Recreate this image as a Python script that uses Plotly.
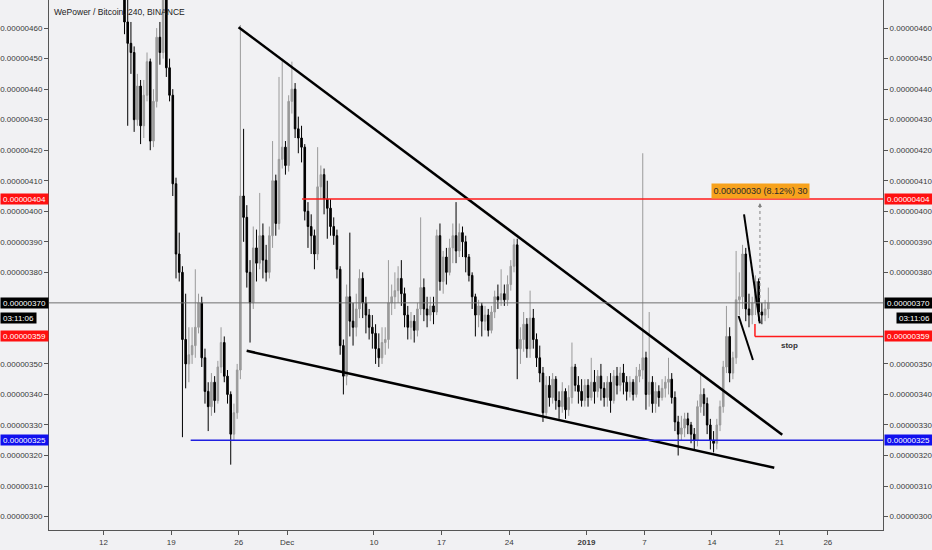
import pandas as pd
import plotly.graph_objects as go

# WPR/BTC 8h candles, prices in satoshi (1e-8 BTC)
first_open = 478
close = [
    462, 455, 452,  430, 441, 428,  438, 449, 423,  436, 457, 452,  470, 447, 438,   # Nov 14-18
    409, 386, 380,  358, 350, 353,  356, 362, 370,  352, 341, 336,  344, 338, 349,   # Nov 19-23
    357, 346, 340,  327, 334, 348,  405, 398, 380,  370, 388, 383,  392, 384, 380,   # Nov 24-28
    392, 410, 396,  417, 421, 415,  436, 440, 427,  424, 421, 400,  395, 392, 386,   # Nov 29-Dec 3
    408, 412, 404,  401, 395, 392,  381, 356, 346,  372, 364, 362,  368, 378, 370,   # Dec 4-8
    366, 362, 360,  355, 352, 357,  358, 370, 372,  374, 378, 373,  366, 362, 364,   # Dec 9-13
    361, 368, 375,  368, 366, 369,  367, 392, 377,  385, 380, 388,  392, 387, 393,   # Dec 14-18
    390, 385, 379,  372, 366, 369,  364, 366, 361,  367, 372, 371,  373, 371, 376,   # Dec 19-23
    382, 389, 355,  358, 363, 355,  365, 358, 352,  347, 334, 343,  339, 345, 338,   # Dec 24-28
    336, 341, 335,  339, 349, 343,  341, 338, 343,  339, 344, 341,  346, 342, 339,   # Dec 29-Jan 2
    344, 338, 346,  343, 347, 344,  341, 344, 340,  346, 348, 352,  340, 344, 337,   # Jan 3-7
    341, 339, 342,  344, 345, 339,  331, 327, 329,  332, 330, 327,  325, 336, 340,   # Jan 8-12
    337, 330, 325,  324, 330, 336,  349, 359, 347,  352, 371, 372,  386, 368, 366,   # Jan 13-17
    370, 377, 367,  366, 368, 370,                                                   # Jan 18-19
]
high = [
    482, 470, 462,  454, 445, 443,  443, 452, 450,  440, 460, 462,  478, 476, 450,
    440, 411, 393,  382, 373, 362,  362, 381, 373,  372, 355, 344,  347, 346, 351,
    362, 359, 348,  341, 337, 350,  461, 427, 402,  384, 395, 394,  406, 396, 389,
    395, 423, 412,  444, 450, 423,  438, 449, 442,  431, 428, 422,  403, 399, 394,
    421, 415, 414,  410, 404, 398,  394, 382, 358,  376, 393, 370,  373, 381, 380,
    372, 368, 366,  363, 360, 362,  362, 384, 376,  380, 382, 384,  375, 369, 367,
    366, 370, 398,  378, 372, 372,  372, 394, 396,  387, 388, 391,  396, 403, 396,
    395, 392, 386,  380, 373, 371,  370, 369, 368,  369, 374, 376,  381, 376, 379,
    384, 391, 391,  362, 367, 365,  374, 368, 360,  356, 349, 346,  346, 347, 346,
    341, 344, 342,  343, 357, 350,  346, 345, 345,  345, 352, 348,  348, 350, 344,
    346, 347, 348,  349, 349, 350,  346, 346, 345,  349, 350, 419,  354, 367, 346,
    344, 343, 345,  346, 352, 347,  341, 333, 333,  334, 334, 331,  329, 338, 347,
    342, 339, 332,  328, 332, 338,  351, 369, 362,  354, 387, 380,  389, 388, 373,
    372, 379, 378,  370, 371, 375,
]
low = [
    458, 428, 445,  426, 428, 422,  424, 436, 420,  421, 434, 448,  450, 444, 436,
    405, 378, 377,  326, 342, 344,  350, 352, 360,  349, 337, 328,  333, 334, 337,
    347, 344, 337,  317, 325, 332,  345, 390, 375,  357, 368, 377,  381, 378, 377,
    378, 388, 392,  394, 414, 412,  413, 432, 424,  419, 416, 397,  388, 386, 381,
    384, 404, 399,  391, 392, 389,  378, 353, 340,  343, 359, 356,  359, 365, 365,
    360, 358, 355,  350, 349, 350,  353, 355, 366,  368, 370, 369,  362, 358, 358,
    357, 359, 366,  364, 362, 364,  363, 366, 374,  373, 376, 379,  383, 383, 385,
    385, 380, 377,  368, 359, 362,  359, 361, 359,  360, 365, 368,  369, 369, 369,
    374, 380, 345,  350, 354, 352,  352, 355, 349,  344, 331, 333,  336, 337, 335,
    332, 334, 332,  333, 337, 341,  337, 336, 336,  336, 338, 337,  339, 338, 336,
    336, 334, 337,  340, 341, 340,  338, 339, 338,  339, 344, 345,  335, 336, 334,
    334, 336, 338,  339, 340, 337,  328, 320, 325,  326, 327, 324,  322, 323, 334,
    333, 327, 322,  321, 322, 328,  334, 347, 344,  345, 350, 366,  368, 364, 362,
    363, 366, 364,  363, 364, 365,
]
open_ = [first_open] + close[:-1]

SAT = 1e-8
times = pd.date_range("2018-11-14 04:00", periods=len(close), freq="8h")

last_price = 370
resistance = 404
support = 325
stop_level = 359

# price scale labels (360 and 370 sit under the price tags, so they are not shown)
price_ticks = [300, 310, 320, 330, 340, 350, 380, 390, 400, 410, 420, 430, 440, 450, 460]

tick_dates = ["2018-11-12", "2018-11-19", "2018-11-26", "2018-12-01", "2018-12-10",
              "2018-12-17", "2018-12-24", "2019-01-01", "2019-01-07", "2019-01-14",
              "2019-01-21", "2019-01-26"]
tick_text = ["12", "19", "26", "Dec", "10", "17", "24", "<b>2019</b>", "7", "14", "21", "26"]

BG = "#f1f1f3"
AXIS = "#555555"
TXT = "#3a3a3a"
FONT = "Liberation Sans"

fig = go.Figure()
fig.add_trace(go.Candlestick(
    x=times,
    open=[v * SAT for v in open_],
    high=[v * SAT for v in high],
    low=[v * SAT for v in low],
    close=[v * SAT for v in close],
    increasing=dict(line=dict(color="#9a9a9a", width=1), fillcolor="#9a9a9a"),
    decreasing=dict(line=dict(color="#000000", width=1), fillcolor="#000000"),
    showlegend=False,
    hoverinfo="skip",
))
# dummy point so the right-hand price scale gets drawn
fig.add_trace(go.Scatter(
    x=[times[-1]], y=[last_price * SAT], yaxis="y2", mode="markers",
    marker=dict(opacity=0), showlegend=False, hoverinfo="skip",
))

shapes = []


def seg(x0, y0, x1, y1, color="black", width=2.5, dash="solid", xref="x"):
    shapes.append(dict(type="line", xref=xref, yref="y", x0=x0, y0=y0 * SAT,
                       x1=x1, y1=y1 * SAT, line=dict(color=color, width=width, dash=dash)))


# wedge
seg("2018-11-25 23:30", 460.3, "2019-01-21 06:40", 326.8)
seg("2018-11-26 19:40", 354.3, "2019-01-20 10:50", 316.0)
# flag
seg("2019-01-17 07:40", 399.0, "2019-01-18 23:00", 363.3, width=2)
seg("2019-01-16 18:15", 365.7, "2019-01-18 05:50", 351.3, width=2)
# levels
shapes.append(dict(type="line", xref="paper", yref="y", x0=0, x1=1,
                   y0=last_price * SAT, y1=last_price * SAT, line=dict(color="#707070", width=1)))
seg("2018-12-02 13:25", resistance, "2019-02-10", resistance, color="#ff1a1a", width=1.5)
seg("2018-11-21 00:30", support, "2019-02-10", support, color="#1f1fe0", width=1.5)
seg("2019-01-18 10:50", stop_level, "2019-02-10", stop_level, color="#ff1a1a", width=1.5)
seg("2019-01-18 10:50", stop_level, "2019-01-18 10:50", 363.1, color="#ff1a1a", width=1.5)
# projection arrow
seg("2019-01-18 23:15", 371.6, "2019-01-18 23:15", 401.5, color="#808080", width=1, dash="dot")

annotations = [
    dict(text="WePower / Bitcoin, 240, BINANCE", xref="paper", yref="paper", x=0, y=1,
         xanchor="left", yanchor="top", xshift=3, yshift=-5, showarrow=False,
         font=dict(family=FONT, size=8.5, color="#222222")),
    dict(x="2019-01-18 23:15", y=402.7 * SAT, ax=0, ay=6, showarrow=True, arrowhead=2,
         arrowsize=0.8, arrowwidth=1, arrowcolor="#808080", text=""),
    dict(text="0.00000030 (8.12%) 30", x="2019-01-19 01:00", y=406.7 * SAT, showarrow=False,
         bgcolor="#f7a21c", width=95, height=12, font=dict(family=FONT, size=9, color="#2a2a2a")),
    dict(text="<b>stop</b>", x="2019-01-22 01:00", y=356 * SAT, showarrow=False,
         font=dict(family=FONT, size=8, color="#333333")),
]

# price tags on both scales
tags = [
    ("0.00000404", resistance, "#ff1010", 47, 0),
    ("0.00000370", last_price, "#000000", 47, 0),
    ("03:11:06", 365.2, "#000000", 35, 12),
    ("0.00000359", stop_level, "#ff1010", 47, 0),
    ("0.00000325", support, "#1010ee", 47, 0),
]
for text, level, color, w, shift in tags:
    for side in ("left", "right"):
        annotations.append(dict(
            text=text, xref="paper", yref="y", y=level * SAT,
            x=0 if side == "left" else 1,
            xanchor="right" if side == "left" else "left",
            xshift=-shift if side == "left" else shift + 1,
            showarrow=False, bgcolor=color, width=w, height=10, borderpad=0,
            font=dict(family=FONT, size=8, color="white"),
        ))

yaxis_style = dict(
    range=[295.6 * SAT, 469.2 * SAT], tickformat=".8f",
    tickvals=[v * SAT for v in price_ticks],
    showgrid=False, zeroline=False, showline=True, linecolor=AXIS, linewidth=1,
    ticks="outside", ticklen=4, tickcolor=AXIS, tickfont=dict(family=FONT, size=8, color=TXT),
)

fig.update_layout(
    width=932, height=550,
    margin=dict(l=48, r=48, t=0, b=20),
    paper_bgcolor=BG, plot_bgcolor=BG,
    font=dict(family=FONT, size=8, color=TXT),
    xaxis=dict(
        type="date", range=["2018-11-06 08:23", "2019-01-31 17:03"],
        tickvals=tick_dates, ticktext=tick_text, showgrid=False, zeroline=False,
        showline=True, linecolor=AXIS, linewidth=1, ticks="outside", ticklen=4,
        tickcolor=AXIS, tickfont=dict(family=FONT, size=8, color=TXT),
        rangeslider=dict(visible=False),
    ),
    yaxis=dict(side="left", **yaxis_style),
    yaxis2=dict(side="right", overlaying="y", matches="y", **yaxis_style),
    shapes=shapes,
    annotations=annotations,
    showlegend=False,
)

# page body has a default 8px margin; drop it so the figure fills the window
fig.write_html("out.html", config={"displayModeBar": False},
               post_script="document.body.style.margin='0';"
               "document.body.style.background='" + BG + "';")
